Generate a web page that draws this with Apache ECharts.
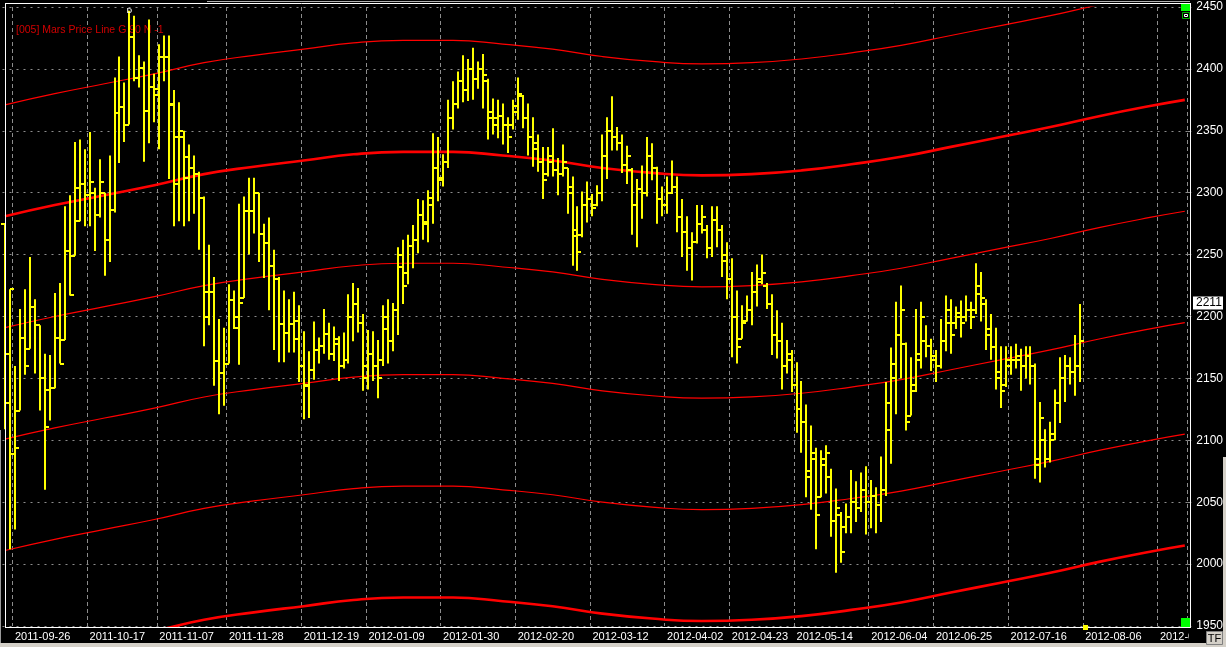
<!DOCTYPE html>
<html><head><meta charset="utf-8">
<script src="https://cdn.jsdelivr.net/npm/echarts@6/dist/echarts.min.js"></script>
<style>html,body{margin:0;padding:0;background:#000;overflow:hidden}#c{width:1226px;height:647px}</style>
</head><body><div id="c"></div>
<script>
// ---- calendar / categories ----
const tradingStart = '2011-09-22';
const slotCount = 238;
const holidays = ['2011-11-01','2011-11-24','2011-12-26','2012-01-02','2012-04-06','2012-04-09','2012-05-01','2012-05-07','2012-06-04','2012-06-05'];
const tickDates = ['2011-09-26','2011-10-17','2011-11-07','2011-11-28','2011-12-19','2012-01-09','2012-01-30','2012-02-20','2012-03-12','2012-04-02','2012-04-23','2012-05-14','2012-06-04','2012-06-25','2012-07-16','2012-08-06','2012-08-27'];

// ---- OHLC values (one per trading day) ----
const opens = [
2275,2170,2089,2124,2183,2174,2208,2193,2150,2141,
2142,2183,2181,2253,2249,2277,2307,2298,2300,2282,
2300,2262,2286,2364,2369,2355,2426,2393,2401,2366,
2385,2379,2410,2410,2371,2345,2345,2329,2320,2315,
2296,2220,2220,2164,2154,2162,2213,2191,2215,2285,
2285,2300,2267,2259,2241,2230,2194,2187,2194,2182,
2160,2145,2157,2173,2176,2186,2170,2178,2160,2165,
2200,2210,2195,2160,2170,2160,2165,2190,2180,2205,
2240,2235,2257,2262,2282,2275,2290,2320,2312,2325,
2360,2372,2390,2383,2400,2392,2400,2390,2360,2355,
2362,2355,2355,2365,2378,2360,2345,2335,2325,2315,
2325,2318,2315,2320,2305,2265,2266,2290,2295,2290,
2300,2330,2350,2345,2340,2322,2318,2290,2303,2300,
2330,2320,2295,2290,2300,2305,2280,2268,2255,2260,
2275,2270,2255,2278,2270,2250,2230,2200,2182,2196,
2205,2220,2230,2225,2210,2185,2180,2160,2165,2145,
2125,2115,2075,2085,2054,2080,2070,2035,2040,2030,
2038,2050,2045,2060,2050,2055,2048,2060,2108,2150,
2185,2178,2120,2145,2165,2180,2176,2165,2160,2180,
2195,2195,2200,2200,2205,2205,2218,2210,2190,2175,
2150,2145,2160,2165,2165,2160,2168,2160,2085,2100,
2085,2105,2130,2150,2160,2155,2160];
const highs = [
2275,2222,2160,2206,2222,2248,2214,2193,2170,2169,
2219,2227,2289,2298,2341,2343,2335,2349,2304,2327,
2300,2330,2393,2410,2389,2447,2443,2411,2406,2440,
2396,2420,2427,2427,2383,2373,2350,2339,2330,2317,
2297,2258,2232,2198,2191,2226,2221,2291,2297,2312,
2312,2300,2275,2280,2254,2232,2221,2214,2220,2209,
2188,2172,2196,2183,2206,2195,2192,2184,2187,2218,
2227,2223,2202,2189,2188,2181,2209,2214,2211,2256,
2262,2266,2274,2295,2294,2302,2348,2345,2331,2375,
2390,2398,2411,2408,2417,2406,2412,2392,2376,2375,
2372,2361,2375,2393,2379,2372,2361,2347,2337,2337,
2352,2328,2339,2320,2313,2289,2301,2309,2299,2306,
2347,2361,2378,2353,2347,2338,2320,2311,2322,2345,
2340,2321,2305,2313,2326,2313,2295,2281,2268,2290,
2290,2274,2289,2289,2274,2260,2247,2221,2209,2217,
2236,2242,2250,2227,2218,2205,2195,2181,2173,2163,
2148,2129,2112,2094,2092,2096,2077,2061,2042,2049,
2076,2067,2074,2079,2068,2062,2087,2147,2175,2212,
2225,2179,2167,2206,2212,2193,2182,2173,2198,2217,
2214,2208,2213,2217,2212,2243,2236,2214,2202,2191,
2176,2176,2176,2178,2174,2176,2176,2162,2131,2109,
2115,2141,2167,2169,2167,2185,2210];
const lows = [
2109,2012,2028,2124,2153,2174,2154,2124,2060,2116,
2142,2162,2181,2217,2249,2277,2273,2273,2253,2280,
2233,2244,2284,2324,2341,2355,2390,2385,2325,2340,
2357,2335,2390,2311,2273,2277,2273,2277,2283,2254,
2176,2193,2144,2121,2128,2162,2190,2161,2215,2250,
2267,2244,2231,2205,2173,2163,2163,2171,2171,2147,
2117,2118,2149,2162,2170,2165,2164,2148,2158,2162,
2180,2187,2140,2141,2148,2134,2160,2162,2172,2185,
2210,2226,2239,2251,2262,2260,2275,2293,2305,2320,
2351,2368,2373,2374,2375,2384,2368,2343,2347,2344,
2339,2332,2351,2359,2352,2330,2321,2317,2295,2313,
2313,2298,2313,2283,2241,2237,2264,2276,2281,2289,
2293,2311,2334,2334,2316,2307,2266,2256,2279,2297,
2310,2275,2281,2283,2299,2268,2248,2237,2229,2259,
2267,2247,2248,2256,2232,2214,2167,2162,2182,2196,
2193,2208,2226,2206,2169,2166,2141,2154,2139,2106,
2090,2054,2044,2012,2054,2057,2022,1993,2001,2025,
2025,2034,2042,2024,2029,2025,2034,2055,2081,2121,
2150,2108,2120,2139,2158,2167,2156,2147,2158,2172,
2170,2190,2183,2196,2190,2202,2196,2173,2165,2141,
2126,2143,2153,2158,2140,2150,2145,2069,2066,2078,
2082,2100,2114,2131,2145,2136,2147];
const closes = [
2130,2222,2094,2183,2160,2208,2193,2150,2111,2142,
2183,2162,2253,2217,2304,2307,2298,2309,2282,2309,
2262,2286,2364,2369,2355,2426,2393,2401,2366,2385,
2384,2410,2410,2372,2307,2350,2312,2320,2315,2296,
2200,2220,2164,2154,2162,2213,2200,2211,2285,2285,
2300,2267,2259,2241,2230,2194,2187,2194,2196,2160,
2144,2157,2173,2176,2186,2170,2182,2160,2165,2200,
2210,2195,2150,2170,2160,2150,2200,2180,2205,2250,
2225,2257,2262,2282,2276,2296,2320,2310,2325,2360,
2372,2390,2383,2400,2392,2400,2395,2365,2360,2362,
2355,2345,2370,2380,2360,2345,2340,2325,2310,2330,
2318,2315,2325,2300,2270,2252,2290,2295,2288,2300,
2330,2350,2345,2340,2322,2330,2290,2303,2300,2330,
2320,2295,2290,2300,2305,2280,2268,2255,2260,2275,
2280,2255,2278,2270,2245,2230,2200,2175,2195,2205,
2220,2228,2235,2210,2185,2180,2160,2170,2145,2125,
2115,2070,2090,2040,2085,2090,2035,2045,2010,2038,
2050,2045,2060,2050,2055,2048,2060,2130,2162,2185,
2205,2115,2140,2170,2200,2176,2168,2160,2180,2205,
2185,2203,2195,2205,2200,2225,2215,2185,2175,2155,
2140,2165,2165,2168,2160,2168,2160,2080,2118,2085,
2100,2130,2150,2160,2155,2160,2180];

// ---- Mars price lines (read at every 10th slot, last slot 237) ----
const marsSampleIdx = [0,10,20,30,40,50,60,70,80,90,100,110,120,130,140,150,160,170,180,190,200,210,220,230,237];
const marsLineP90  = [2371,2380,2388,2396,2405,2411,2416,2421,2423,2423,2420,2416,2410,2406,2404,2405,2408,2413,2419,2427,2435,2443,2452,2460,2465];
const marsLine0    = [2281,2290,2298,2306,2315,2321,2326,2331,2333,2333,2330,2326,2320,2316,2314,2315,2318,2323,2329,2337,2345,2353,2362,2370,2375];
const marsLineM90  = [2191,2200,2208,2216,2225,2231,2236,2241,2243,2243,2240,2236,2230,2226,2224,2225,2228,2233,2239,2247,2255,2263,2272,2280,2285];
const marsLineM180 = [2101,2110,2118,2126,2135,2141,2146,2151,2153,2153,2150,2146,2140,2136,2134,2135,2138,2143,2149,2157,2165,2173,2182,2190,2195];
const marsLineM270 = [2011,2020,2028,2036,2045,2051,2056,2061,2063,2063,2060,2056,2050,2046,2044,2045,2048,2053,2059,2067,2075,2083,2092,2100,2105];
const marsLineM360 = [1921,1930,1938,1946,1955,1961,1966,1971,1973,1973,1970,1966,1960,1956,1954,1955,1958,1963,1969,1977,1985,1993,2002,2010,2015];

const currentPrice = 2211;
const titleText = '[005] Mars Price Line G 90 N -1';
const highMarkIndex = 25; // bar with the "D" marker
const nextBarIndex = 217; // small yellow marker at bottom

// ---- build categories ----
const categories = [];
(function(){
  const d = new Date(tradingStart + 'T00:00:00Z');
  while (categories.length < slotCount) {
    const wd = d.getUTCDay();
    const s = d.toISOString().slice(0,10);
    if (wd !== 0 && wd !== 6 && holidays.indexOf(s) < 0) categories.push(s);
    d.setUTCDate(d.getUTCDate() + 1);
  }
})();
const labelAt = new Map();
tickDates.forEach(t => { const i = categories.findIndex(c => c >= t); if (i >= 0) labelAt.set(i, t); });

const ohlcData = opens.map((o, i) => [i, o, highs[i], lows[i], closes[i]]);

const FONT = '"Liberation Sans", Arial, sans-serif';
const chart = echarts.init(document.getElementById('c'), null, {renderer: 'canvas'});

function marsSeries(vals, w) {
  return {
    type: 'line', data: marsSampleIdx.map((ix, n) => [ix, vals[n]]),
    smooth: true, symbol: 'none', silent: true, z: 2, clip: true,
    lineStyle: {color: '#ff0000', width: w}
  };
}

const titleGraphic = {type: 'text', z: 1, style: {text: titleText, x: 16, y: 30, fill: '#d20000', font: '10.5px ' + FONT, textVerticalAlign: 'middle', verticalAlign: 'middle'}};

chart.setOption({
  backgroundColor: '#000000',
  animation: false,
  grid: {left: 2.5, right: 33.5, top: 7, bottom: 21, containLabel: false, show: false},
  xAxis: {
    type: 'category', data: categories, boundaryGap: true,
    axisLine: {show: false}, axisTick: {show: false},
    axisLabel: {
      interval: (i) => labelAt.has(i),
      formatter: (v, i) => labelAt.get(i) || '',
      color: '#ffffff', fontSize: 11, fontFamily: FONT, align: 'left', margin: 5
    },
    splitLine: {show: true, interval: (i) => labelAt.has(i), lineStyle: {color: '#8c8c8c', width: 1, type: [4, 3]}}
  },
  yAxis: {
    type: 'value', position: 'right', min: 1950, max: 2450, interval: 50,
    axisLine: {show: false},
    axisTick: {show: true, length: 4, lineStyle: {color: '#8c8c8c'}},
    axisLabel: {color: '#ffffff', fontSize: 12, fontFamily: FONT, margin: 9, showMinLabel: true, showMaxLabel: true, formatter: (v) => String(v)},
    splitLine: {show: true, lineStyle: {color: '#8c8c8c', width: 1, type: [2, 5]}}
  },
  graphic: [titleGraphic],
  series: [
    marsSeries(marsLineP90, 1.2),
    marsSeries(marsLine0, 2.6),
    marsSeries(marsLineM90, 1.2),
    marsSeries(marsLineM180, 1.2),
    marsSeries(marsLineM270, 1.2),
    marsSeries(marsLineM360, 2.6),
    {
      type: 'custom', z: 5, clip: false,
      encode: {x: 0, y: [1, 2, 3, 4]},
      data: ohlcData,
      renderItem: function (params, api) {
        const idx = api.value(0);
        const x = Math.round(api.coord([idx, api.value(2)])[0]);
        const yH = api.coord([idx, api.value(2)])[1];
        const yL = api.coord([idx, api.value(3)])[1];
        const yO = Math.round(api.coord([idx, api.value(1)])[1]);
        const yC = Math.round(api.coord([idx, api.value(4)])[1]);
        const st = {stroke: '#ffff00', lineWidth: 2, lineCap: 'butt'};
        return {type: 'group', children: [
          {type: 'line', shape: {x1: x, y1: yH, x2: x, y2: yL}, style: st},
          {type: 'line', shape: {x1: x - 4, y1: yO, x2: x, y2: yO}, style: st},
          {type: 'line', shape: {x1: x, y1: yC, x2: x + 4, y2: yC}, style: st}
        ]};
      }
    },
    {
      type: 'scatter', z: 6, symbolSize: 1, itemStyle: {color: 'rgba(0,0,0,0)'},
      data: [[highMarkIndex, highs[highMarkIndex]]],
      label: {show: true, formatter: 'D', position: 'inside', color: '#ffffff', fontSize: 8, fontWeight: 'bold', fontFamily: FONT}
    }
  ]
});

const yCur = chart.convertToPixel({yAxisIndex: 0}, currentPrice);
const xNext = chart.convertToPixel({xAxisIndex: 0}, nextBarIndex);

chart.setOption({
  graphic: [
    titleGraphic,
    // window frame lines
    {type: 'rect', z: 100, shape: {x: 0, y: 643, width: 1226, height: 4}, style: {fill: '#d4d0c8'}},
    {type: 'rect', z: 100, shape: {x: 1223, y: 457, width: 3, height: 190}, style: {fill: '#d4d0c8'}},
    {type: 'rect', z: 100, shape: {x: 0, y: 430, width: 1, height: 213}, style: {fill: '#9a9a9a'}},
    {type: 'line', z: 100, shape: {x1: 207, y1: 1.5, x2: 1190, y2: 1.5}, style: {stroke: '#b0b0b0', lineWidth: 1}},
    // plot border
    {type: 'line', z: 100, shape: {x1: 5, y1: 3.5, x2: 1191, y2: 3.5}, style: {stroke: '#ffffff', lineWidth: 1}},
    {type: 'line', z: 100, shape: {x1: 5.5, y1: 3, x2: 5.5, y2: 627}, style: {stroke: '#ffffff', lineWidth: 1}},
    {type: 'line', z: 100, shape: {x1: 1190.5, y1: 3, x2: 1190.5, y2: 628}, style: {stroke: '#ffffff', lineWidth: 1}},
    {type: 'line', z: 100, shape: {x1: 5, y1: 627.5, x2: 1191, y2: 627.5}, style: {stroke: '#ffffff', lineWidth: 1}},
    // mask for clipped last date label
    {type: 'rect', z: 101, shape: {x: 1189, y: 630, width: 34, height: 13}, style: {fill: '#000000'}},
    // TF button
    {type: 'rect', z: 102, shape: {x: 1206.5, y: 631.5, width: 16, height: 13}, style: {fill: '#d4d0c8', stroke: '#808080', lineWidth: 1}},
    {type: 'text', z: 103, style: {text: 'TF', x: 1214.5, y: 638.5, fill: '#000000', font: '11px ' + FONT, textAlign: 'center', textVerticalAlign: 'middle', align: 'center', verticalAlign: 'middle'}},
    // green squares
    {type: 'rect', z: 102, shape: {x: 1181, y: 4, width: 9, height: 7}, style: {fill: '#00ff00'}},
    {type: 'rect', z: 102, shape: {x: 1182.5, y: 12.5, width: 7, height: 6}, style: {fill: '#000000', stroke: '#00b000', lineWidth: 1}},
    {type: 'rect', z: 103, shape: {x: 1184.5, y: 14.5, width: 3, height: 2}, style: {fill: '#000000', stroke: '#ffffff', lineWidth: 1}},
    {type: 'rect', z: 102, shape: {x: 1181, y: 618, width: 9, height: 9}, style: {fill: '#00ff00'}},
    // next-bar yellow marker
    {type: 'rect', z: 102, shape: {x: Math.round(xNext) - 2, y: 625, width: 5, height: 5}, style: {fill: '#ffff00'}},
    // current price box
    {type: 'rect', z: 102, shape: {x: 1193, y: Math.round(yCur) - 6.5, width: 30, height: 13}, style: {fill: '#ffffff'}},
    {type: 'text', z: 103, style: {text: String(currentPrice), x: 1196, y: Math.round(yCur), fill: '#000000', font: '12px ' + FONT, textVerticalAlign: 'middle', verticalAlign: 'middle'}}
  ]
});
</script>
</body></html>
